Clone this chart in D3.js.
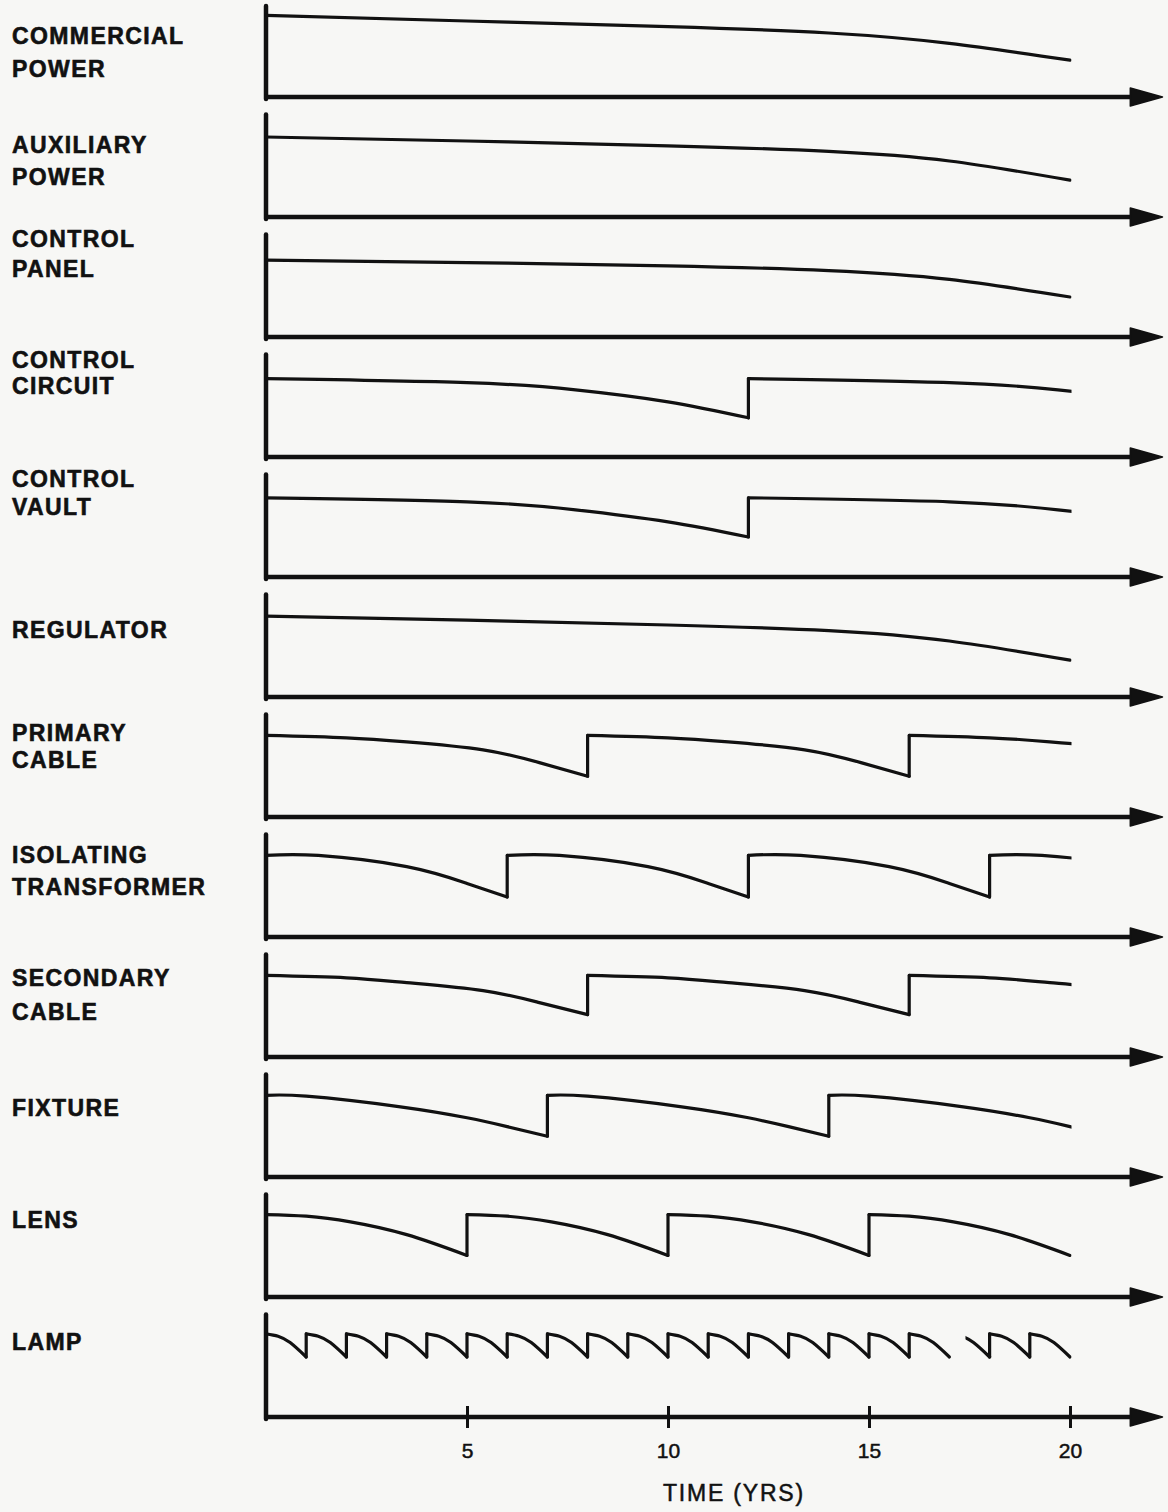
<!DOCTYPE html>
<html>
<head>
<meta charset="utf-8">
<script src="https://cdn.jsdelivr.net/npm/d3@7/dist/d3.min.js"></script>
<style>
body{margin:0;background:#f7f7f5;}
svg{display:block;}
</style>
</head>
<body>
<svg id="chart" width="1168" height="1512"></svg>
<script>
// component names, one panel each (top to bottom)
var labels = [
  ["COMMERCIAL","POWER"],
  ["AUXILIARY","POWER"],
  ["CONTROL","PANEL"],
  ["CONTROL","CIRCUIT"],
  ["CONTROL","VAULT"],
  ["REGULATOR"],
  ["PRIMARY","CABLE"],
  ["ISOLATING","TRANSFORMER"],
  ["SECONDARY","CABLE"],
  ["FIXTURE"],
  ["LENS"],
  ["LAMP"]
];

// years at which the part is replaced (curve jumps back up)
var replaceYears = [
  [],
  [],
  [],
  [12],
  [12],
  [],
  [8,16],
  [6,12,18],
  [8,16],
  [7,14],
  [5,10,15],
  [1,2,3,4,5,6,7,8,9,10,11,12,13,14,15,16,17,18,19]
];

// one service life of each part: age (yrs) -> relative condition
var profileAges = [
  [0,5,10,14,17,20],
  [0,5,10,14,17,20],
  [0,5,10,14,17,20],
  [0,5,7.7,10,12],
  [0,5,7.7,10,12],
  [0,5,10,14,17,20],
  [0,2,3.5,5.4,6.8,8],
  [0,1.3,3.5,5,6],
  [0,2,3.5,5.4,6.8,8],
  [0,1,3.3,5,6,7],
  [0,1,2.1,3.5,5],
  [0,0.3,0.6,1]
];
var profileValues = [
  [1.02,0.95,0.88,0.8,0.67,0.46],
  [1.0,0.95,0.89,0.82,0.7,0.46],
  [0.96,0.93,0.89,0.83,0.72,0.5],
  [0.98,0.93,0.84,0.69,0.49],
  [0.99,0.94,0.84,0.69,0.5],
  [1.01,0.96,0.9,0.83,0.7,0.46],
  [1.02,0.99,0.94,0.84,0.68,0.51],
  [1.02,1.02,0.88,0.67,0.5],
  [1.02,0.99,0.93,0.83,0.68,0.53],
  [1.02,1.01,0.88,0.74,0.63,0.51],
  [1.03,1.01,0.94,0.78,0.52],
  [1.04,1.01,0.93,0.75]
];

// spot where the pen was lifted on the lamp curve
var gaps = [{panel:11, from:17, to:17.4}];

var tickYears = [5,10,15,20];
var xLabel = "TIME (YRS)";

// label line centres relative to each panel's baseline
var labelOffsets = [
  [-61,-28],[-72,-40],[-98,-68],[-97,-71],[-98,-70],[-67],
  [-84,-57],[-82,-50],[-79,-45],[-69],[-77],[-75]
];

var ink = "#111";
var svg = d3.select("#chart");
svg.append("rect").attr("width",1168).attr("height",1512).attr("fill","#f7f7f5");
var defs = svg.append("defs");

var x = d3.scaleLinear().domain([0,20]).range([266,1070]);
var firstBase = 97, step = 120;

labels.forEach(function(lines, i){
  var base = firstBase + i*step;
  var y = d3.scaleLinear().domain([0,1]).range([base, base-80]);
  var g = svg.append("g");

  // label
  lines.forEach(function(t, k){
    g.append("text")
      .attr("x", 12)
      .attr("y", base + labelOffsets[i][k] + 8)
      .style("font-family", "'Liberation Sans', Arial, sans-serif")
      .style("font-weight", "bold")
      .style("font-size", "23px")
      .style("letter-spacing", "1.4px")
      .attr("fill", ink)
      .attr("stroke", ink).attr("stroke-width", 0.6)
      .text(t);
  });

  // axes
  g.append("line")
    .attr("x1", x(0)).attr("x2", x(0))
    .attr("y1", Math.max(y(1.28), 6)).attr("y2", base + 2)
    .attr("stroke", ink).attr("stroke-width", 4.5).attr("stroke-linecap", "round");
  g.append("line")
    .attr("x1", x(0) - 2).attr("x2", x(21.6))
    .attr("y1", base).attr("y2", base)
    .attr("stroke", ink).attr("stroke-width", 4.5);
  g.append("path")
    .attr("d", "M" + x(21.5) + "," + (base - 9) + "L" + x(22.3) + "," + base + "L" + x(21.5) + "," + (base + 9) + "Z")
    .attr("fill", ink).attr("stroke", ink).attr("stroke-width", 1.5).attr("stroke-linejoin", "round");

  var line = d3.line()
    .x(function(d){ return x(d[0]); })
    .y(function(d){ return y(d[1]); })
    .curve(d3.curveNatural);

  var starts = [0].concat(replaceYears[i]);
  starts.forEach(function(s, k){
    var end = k < starts.length - 1 ? starts[k+1] : 20;
    var from = s;
    gaps.forEach(function(gp){ if (gp.panel === i && gp.from === s) from = gp.to; });
    var clipId = "clip-" + i + "-" + k;
    defs.append("clipPath").attr("id", clipId).append("rect")
      .attr("x", x(from) - (from === s ? 1.5 : 0))
      .attr("y", base - 120)
      .attr("width", x(end) - x(from) + 3)
      .attr("height", 130);
    var pts = profileAges[i].map(function(a, j){ return [s + a, profileValues[i][j]]; });
    g.append("path")
      .attr("d", line(pts))
      .attr("clip-path", "url(#" + clipId + ")")
      .attr("fill", "none")
      .attr("stroke", ink)
      .attr("stroke-width", 3.2)
      .attr("stroke-linecap", "round")
      .attr("stroke-linejoin", "round");
  });

  // vertical jumps at replacement
  var vals = profileValues[i];
  replaceYears[i].forEach(function(r){
    var skip = gaps.some(function(gp){ return gp.panel === i && gp.from === r; });
    if (skip) return;
    g.append("line")
      .attr("x1", x(r)).attr("x2", x(r))
      .attr("y1", y(vals[vals.length - 1])).attr("y2", y(vals[0]))
      .attr("stroke", ink).attr("stroke-width", 3.2).attr("stroke-linecap", "round");
  });

  // time ticks on bottom panel only
  if (i === labels.length - 1) {
    var ax = g.append("g")
      .attr("transform", "translate(0," + base + ")")
      .call(d3.axisBottom(x).tickValues(tickYears).tickSize(10).tickFormat(d3.format("d")));
    ax.select(".domain").remove();
    ax.selectAll(".tick line")
      .attr("y1", -11).attr("y2", 11)
      .attr("stroke", ink).attr("stroke-width", 3);
    ax.selectAll(".tick text")
      .attr("y", 26)
      .attr("fill", ink)
      .attr("stroke", ink).attr("stroke-width", 0.5)
      .style("font-family", "'Liberation Sans', Arial, sans-serif")
      .style("font-size", "21px");

    svg.append("text")
      .attr("x", 734)
      .attr("y", base + 84)
      .attr("text-anchor", "middle")
      .attr("fill", ink)
      .attr("stroke", ink).attr("stroke-width", 0.5)
      .style("font-family", "'Liberation Sans', Arial, sans-serif")
      .style("font-size", "23px")
      .style("letter-spacing", "1.8px")
      .text(xLabel);
  }
});
</script>
</body>
</html>
